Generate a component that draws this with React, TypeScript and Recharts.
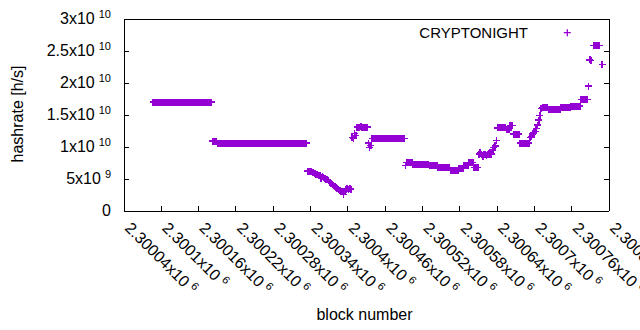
import React from 'react';
import { ScatterChart, Scatter, XAxis, YAxis, Legend, Label } from 'recharts';

const FONT = '"Liberation Sans", Arial, sans-serif';
const COLOR = '#9400d3';
const FONT_SIZE = 16;
const SUP_SIZE = 11;

// ---- tick labels ----
const X_TICKS = [2300040, 2300100, 2300160, 2300220, 2300280, 2300340, 2300400, 2300460, 2300520, 2300580, 2300640, 2300700, 2300760, 2300820];
const X_TICK_MANTISSA = ['2.30004', '2.3001', '2.30016', '2.30022', '2.30028', '2.30034', '2.3004', '2.30046', '2.30052', '2.30058', '2.30064', '2.3007', '2.30076', '2.30082'];
const X_TICK_EXPONENT = '6';

const Y_TICKS = [0, 5e9, 1e10, 1.5e10, 2e10, 2.5e10, 3e10];
const Y_TICK_MANTISSA = ['0', '5', '1', '1.5', '2', '2.5', '3'];
const Y_TICK_EXPONENT = ['', '9', '10', '10', '10', '10', '10'];

const X_DOMAIN = [2300040, 2300820];
const Y_DOMAIN = [0, 3e10];

// ---- data: block numbers (offset from base, every 2nd block) and hashrate in units of 1e9 h/s ----
const BLOCK_BASE = 2300000;
const BLOCK_STEP = 2;
const SERIES_NAME = 'CRYPTONIGHT';

const segmentStarts = [87, 183, 191, 335, 407, 415, 433, 439, 493, 611, 641, 667, 677, 693, 713, 775, 787, 795, 809];

const segmentValues: number[][] = [
  // 87..181
  [17.0, 17.0, 17.0, 17.0, 17.0, 17.0, 17.0, 17.0, 17.0, 17.0, 17.0, 17.0, 17.0, 17.0, 17.0, 17.0,
   17.0, 17.0, 17.0, 17.0, 17.0, 17.0, 17.0, 17.0, 17.0, 17.0, 17.0, 17.0, 17.0, 17.0, 17.0, 17.0,
   17.0, 17.0, 17.0, 17.0, 17.0, 17.0, 17.0, 17.0, 17.0, 17.0, 17.0, 17.0, 17.0, 17.0, 17.0, 17.0],
  // 183..189
  [10.9, 10.9, 10.9, 10.85],
  // 191..333
  [10.6, 10.6, 10.6, 10.6, 10.6, 10.6, 10.6, 10.6, 10.6, 10.6, 10.6, 10.6, 10.6, 10.6, 10.6, 10.6, 10.6, 10.6,
   10.6, 10.6, 10.6, 10.6, 10.6, 10.6, 10.6, 10.6, 10.6, 10.6, 10.6, 10.6, 10.6, 10.6, 10.6, 10.6, 10.6, 10.6,
   10.6, 10.6, 10.6, 10.6, 10.6, 10.6, 10.6, 10.6, 10.6, 10.6, 10.6, 10.6, 10.6, 10.6, 10.6, 10.6, 10.6, 10.6,
   10.6, 10.6, 10.6, 10.6, 10.6, 10.6, 10.6, 10.6, 10.6, 10.6, 10.6, 10.6, 10.6, 10.6, 10.6, 10.6, 10.6, 10.6],
  // 335..405
  [6.25, 6.25, 6.25, 6.2, 6.0, 5.95, 5.85, 5.75, 5.7, 5.6, 5.5, 5.1, 5.35, 5.2, 5.1, 4.95, 4.85, 4.7,
   4.5, 4.3, 4.15, 4.0, 3.8, 3.65, 3.5, 3.35, 3.2, 3.1, 3.0, 2.6, 3.1, 3.4, 3.45, 3.4, 3.45, 3.4],
  // 407..413
  [11.5, 11.35, 12.1, 11.8],
  // 415..431
  [13.1, 13.05, 13.1, 13.15, 13.1, 13.1, 13.05, 13.1, 13.1],
  // 433..437
  [10.6, 9.9, 10.25],
  // 439..491
  [11.35, 11.35, 11.35, 11.35, 11.35, 11.35, 11.35, 11.35, 11.35, 11.35, 11.35, 11.35, 11.35, 11.35,
   11.35, 11.35, 11.35, 11.35, 11.35, 11.35, 11.35, 11.35, 11.35, 11.35, 11.35, 11.35, 11.35],
  // 493..609
  [7.1, 7.55, 7.55, 7.55, 7.55, 7.55,
   7.3, 7.3, 7.3, 7.3, 7.3, 7.3,
   7.2, 7.2, 7.2, 7.2, 7.2, 7.2, 7.2,
   7.1, 7.1, 7.1, 7.1, 7.1, 7.1, 7.1,
   6.8, 6.8, 6.8, 6.8, 6.8, 6.8, 6.8, 6.8, 6.8, 6.8,
   6.35, 6.35, 6.35, 6.35, 6.35, 6.35, 6.35,
   6.67, 6.67, 6.67, 6.67,
   7.08, 7.08, 7.08, 7.08,
   7.55, 7.55, 7.55, 7.55,
   6.8, 6.8, 6.8, 6.8],
  // 611..639
  [8.9, 9.1, 8.8, 8.5, 8.8, 8.9, 8.7, 8.9, 9.0, 8.8, 8.9, 9.5, 9.9, 10.2, 11.0],
  // 641..665
  [13.0, 13.0, 13.0, 13.0, 13.0, 13.0, 13.0, 12.7, 12.7, 12.7, 13.35, 13.35, 13.35],
  // 667..675
  [12.0, 12.0, 12.0, 12.0, 12.0],
  // 677..691
  [10.6, 10.6, 10.6, 10.6, 10.6, 10.6, 10.6, 10.6],
  // 693..711
  [11.5, 11.6, 12.1, 12.2, 12.4, 12.9, 13.4, 14.2, 14.9, 16.0],
  // 713..773
  [16.1, 16.1, 16.1, 16.1, 16.1,
   15.9, 15.9, 15.9, 15.9, 15.9, 15.9, 15.9, 15.9, 15.9, 15.9,
   16.2, 16.2, 16.2, 16.2, 16.2, 16.2, 16.2, 16.2,
   16.4, 16.4, 16.4, 16.4, 16.4, 16.4, 16.4, 16.4],
  // 775..785
  [17.45, 17.45, 17.45, 17.45, 17.45, 17.45],
  // 787..791
  [19.5, 23.6, 23.5],
  // 795..805
  [25.85, 25.85, 25.85, 25.85, 25.85, 25.85],
  // 809
  [22.9],
];

const points = segmentStarts.flatMap((start, i) =>
  segmentValues[i].map((v, j) => ({
    block: BLOCK_BASE + start + BLOCK_STEP * j,
    hashrate: v * 1e9,
  }))
);

// ---- render helpers ----
const MARK_STROKE = 1.6;

const PlusShape = (props: any) => {
  const { cx, cy } = props;
  if (cx == null || cy == null) return <g />;
  return (
    <path
      d={`M${cx - 3.5},${cy}H${cx + 3.5}M${cx},${cy - 3.5}V${cy + 3.5}`}
      stroke={COLOR}
      strokeWidth={MARK_STROKE}
      shapeRendering="crispEdges"
      fill="none"
    />
  );
};

const XTick = (props: any) => {
  const { x, y, payload } = props;
  const i = X_TICKS.indexOf(payload.value);
  const tx = x;
  const ty = y + 23;
  return (
    <text x={tx} y={ty} transform={`rotate(45 ${tx} ${ty})`} fontFamily={FONT} fontSize={FONT_SIZE} fill="#000" textAnchor="start">
      {X_TICK_MANTISSA[i]}x10
      <tspan dx={4} dy={-6} fontSize={SUP_SIZE}>{X_TICK_EXPONENT}</tspan>
    </text>
  );
};

const YTick = (props: any) => {
  const { y, payload } = props;
  const i = Y_TICKS.indexOf(payload.value);
  const exp = Y_TICK_EXPONENT[i];
  return (
    <text x={111} y={y + 5} textAnchor="end" fontFamily={FONT} fontSize={FONT_SIZE} fill="#000">
      {exp ? `${Y_TICK_MANTISSA[i]}x10` : Y_TICK_MANTISSA[i]}
      {exp ? <tspan dx={4} dy={-6} fontSize={SUP_SIZE}>{exp}</tspan> : null}
    </text>
  );
};

const Empty = () => <g />;

const LegendContent = () => (
  <svg width={220} height={24} style={{ display: 'block', overflow: 'visible' }}>
    <text x={128} y={16} textAnchor="end" fontFamily={FONT} fontSize={15} fill="#000">{SERIES_NAME}</text>
    <path d="M163.8,10.7H170.8M167.3,7.2V14.2" stroke={COLOR} strokeWidth={1.3} fill="none" />
  </svg>
);

const axisLine = { stroke: '#000', strokeWidth: 1, shapeRendering: 'crispEdges' } as any;
const tickLine = { stroke: '#000', strokeWidth: 1, shapeRendering: 'crispEdges' } as any;

export default function App() {
  return (
    <div style={{ position: 'absolute', left: 0, top: 0, width: 640, height: 330, background: '#fff' }}>
      <ScatterChart
        width={640}
        height={330}
        margin={{ top: 18, right: 30, bottom: 0, left: 0 }}
        style={{ fontFamily: FONT }}
      >
        <XAxis
          xAxisId="b"
          dataKey="block"
          type="number"
          domain={X_DOMAIN}
          ticks={X_TICKS}
          interval={0}
          height={119}
          tickSize={-5}
          tickMargin={0}
          tick={<XTick />}
          axisLine={axisLine}
          tickLine={tickLine}
          allowDataOverflow
        >
          <Label
            content={(p: any) => {
              const vb = p.viewBox;
              return (
                <text x={vb.x + vb.width / 2 - 2} y={vb.y + 109} textAnchor="middle" fontFamily={FONT} fontSize={FONT_SIZE} fill="#000">
                  block number
                </text>
              );
            }}
          />
        </XAxis>
        <XAxis
          xAxisId="t"
          orientation="top"
          type="number"
          domain={X_DOMAIN}
          ticks={X_TICKS}
          interval={0}
          height={1}
          tickSize={-5}
          tick={<Empty />}
          axisLine={axisLine}
          tickLine={tickLine}
          allowDataOverflow
        />
        <YAxis
          yAxisId="l"
          dataKey="hashrate"
          type="number"
          domain={Y_DOMAIN}
          ticks={Y_TICKS}
          interval={0}
          width={124}
          tickSize={-5}
          tickMargin={0}
          tick={<YTick />}
          axisLine={axisLine}
          tickLine={tickLine}
          allowDataOverflow
        >
          <Label
            content={(p: any) => {
              const vb = p.viewBox;
              const cx = 22.5;
              const cy = vb.y + vb.height / 2 - 1;
              return (
                <text x={cx} y={cy} transform={`rotate(-90 ${cx} ${cy})`} textAnchor="middle" fontFamily={FONT} fontSize={FONT_SIZE} fill="#000">
                  hashrate [h/s]
                </text>
              );
            }}
          />
        </YAxis>
        <YAxis
          yAxisId="r"
          orientation="right"
          type="number"
          domain={Y_DOMAIN}
          ticks={Y_TICKS}
          interval={0}
          width={1}
          tickSize={-5}
          tick={<Empty />}
          axisLine={axisLine}
          tickLine={tickLine}
          allowDataOverflow
        />
        <Scatter
          name={SERIES_NAME}
          data={points}
          xAxisId="b"
          yAxisId="l"
          fill={COLOR}
          shape={PlusShape}
          isAnimationActive={false}
        />
        <Legend
          layout="horizontal"
          verticalAlign="middle"
          align="center"
          content={LegendContent}
          wrapperStyle={{ left: 400, top: 22, width: 220, height: 24 }}
        />
      </ScatterChart>
    </div>
  );
}
